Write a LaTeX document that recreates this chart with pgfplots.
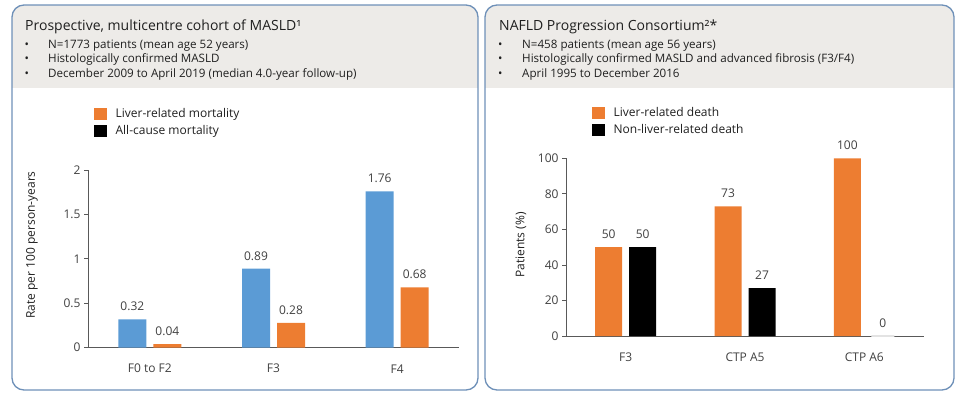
\documentclass[border=0pt]{standalone}
\usepackage{pgfplots}
\pgfplotsset{compat=1.18}
\usepackage{fontspec}
\setmainfont{Open Sans}
\definecolor{cblue}{HTML}{5B9BD5}
\definecolor{corange}{HTML}{ED7D31}
\definecolor{frame}{HTML}{6E90B8}
\definecolor{hdr}{HTML}{EDEBE8}
\definecolor{txt}{HTML}{1F1F1F}
\definecolor{axc}{HTML}{595959}
\definecolor{lbl}{HTML}{404040}
\definecolor{zerobar}{HTML}{E3E3E3}
\pgfplotsset{
  panel/.style={
    anchor=south west, scale only axis,
    xmin=-0.5, xmax=2.5, ymin=0,
    axis lines*=left,
    axis line style={axc, line width=0.8pt},
    xtick={0,1,2},
    x tick style={draw=none},
    y tick style={axc, line width=0.8pt},
    major tick length=4pt, tick align=outside,
    /pgf/number format/assume math mode=true,
    tick label style={font=\fontsize{12}{14}\selectfont, text=lbl},
    xticklabel style={anchor=center, yshift=-17pt},
    ylabel style={font=\fontsize{12}{14}\selectfont, text=txt, anchor=center},
    ybar, bar width=28pt,
    nodes near coords, point meta=explicit symbolic,
    every node near coord/.append style={font=\fontsize{12}{14}\selectfont, text=lbl, anchor=base, yshift=8.5pt},
    legend style={draw=none, fill=none, anchor=north west, inner sep=0pt,
      font=\fontsize{12}{14}\selectfont, row sep=3pt, text=txt,
      /tikz/every odd column/.append style={column sep=7pt}},
    legend cell align=left,
  },
  sq/.style={legend image code/.code={\fill[#1] (0pt,-5.5pt) rectangle (12pt,5.5pt);}},
}
\begin{document}
\begin{tikzpicture}[x=1pt,y=1pt]
\path[use as bounding box] (0,0) rectangle (960,400);
\foreach \xa/\xb in {12/478, 485/954} {
  \begin{scope}
    \clip[rounded corners=12pt] (\xa,10) rectangle (\xb,395);
    \fill[hdr] (\xa,312) rectangle (\xb,395);
  \end{scope}
  \draw[frame, line width=1.3pt, rounded corners=12pt] (\xa,10) rectangle (\xb,395);
}
% left header
\node[anchor=base west, inner sep=0, font=\fontsize{14}{16}\selectfont, text=txt] at (25,369) {Prospective, multicentre cohort of MASLD¹};
\begin{scope}[every node/.style={anchor=base west, inner sep=0, font=\fontsize{11.6}{13}\selectfont, text=txt}]
\node at (24.5,352) {•}; \node at (48,352) {N=1773 patients (mean age 52 years)};
\node at (24.5,337.5) {•}; \node at (48,337.5) {Histologically confirmed MASLD};
\node at (24.5,323) {•}; \node at (48,323) {December 2009 to April 2019 (median 4.0-year follow-up)};
\end{scope}
% right header
\node[anchor=base west, inner sep=0, font=\fontsize{14}{16}\selectfont, text=txt] at (499,369) {NAFLD Progression Consortium²*};
\begin{scope}[every node/.style={anchor=base west, inner sep=0, font=\fontsize{11.6}{13}\selectfont, text=txt}]
\node at (498,352) {•}; \node at (522,352) {N=458 patients (mean age 56 years)};
\node at (498,337.5) {•}; \node at (522,337.5) {Histologically confirmed MASLD and advanced fibrosis (F3/F4)};
\node at (498,323) {•}; \node at (522,323) {April 1995 to December 2016};
\end{scope}

% left axis
\begin{axis}[panel,
  at={(88pt,52.3pt)}, width=371pt, height=177.7pt,
  ymax=2, ytick={0,0.5,1,1.5,2},
  xticklabels={F0 to F2, F3, F4},
  ylabel={Rate per 100 person-years},
  ylabel style={at={(axis description cs:-0.151,0.578)}},
  legend style={at={(axis description cs:0.0162,1.36)}},
]
\addplot[bar shift=-17.5pt, fill=cblue, draw=none, forget plot]
  coordinates {(0,0.32)[0.32] (1,0.89)[0.89] (2,1.76)[1.76]};
\addplot[bar shift=17.5pt, fill=corange, draw=none, forget plot]
  coordinates {(0,0.04)[0.04] (1,0.28)[0.28] (2,0.68)[0.68]};
\addlegendimage{sq=corange}
\addlegendentry{Liver-related mortality}
\addlegendimage{sq=black}
\addlegendentry{All-cause mortality}
\end{axis}

% right axis
\begin{axis}[panel,
  at={(566pt,64pt)}, width=358pt, height=177.7pt,
  ymax=100, ytick={0,20,40,60,80,100},
  xticklabels={F3, CTP A5, CTP A6},
  ylabel={Patients (\%)},
  ylabel style={at={(axis description cs:-0.126,0.512)}},
  legend style={at={(axis description cs:0.0726,1.30)}},
  bar width=27pt,
]
\addplot[bar shift=-17pt, fill=corange, draw=none, forget plot]
  coordinates {(0,50)[50] (1,73)[73] (2,100)[100]};
\addplot[bar shift=17pt, fill=black, draw=none, forget plot]
  coordinates {(0,50)[50] (1,27)[27]};
\addplot[bar shift=18.5pt, bar width=23pt, fill=zerobar, draw=zerobar, line width=1.5pt, forget plot]
  coordinates {(2,0)[0]};
\addlegendimage{sq=corange}
\addlegendentry{Liver-related death}
\addlegendimage{sq=black}
\addlegendentry{Non-liver-related death}
\end{axis}
\end{tikzpicture}
\end{document}
